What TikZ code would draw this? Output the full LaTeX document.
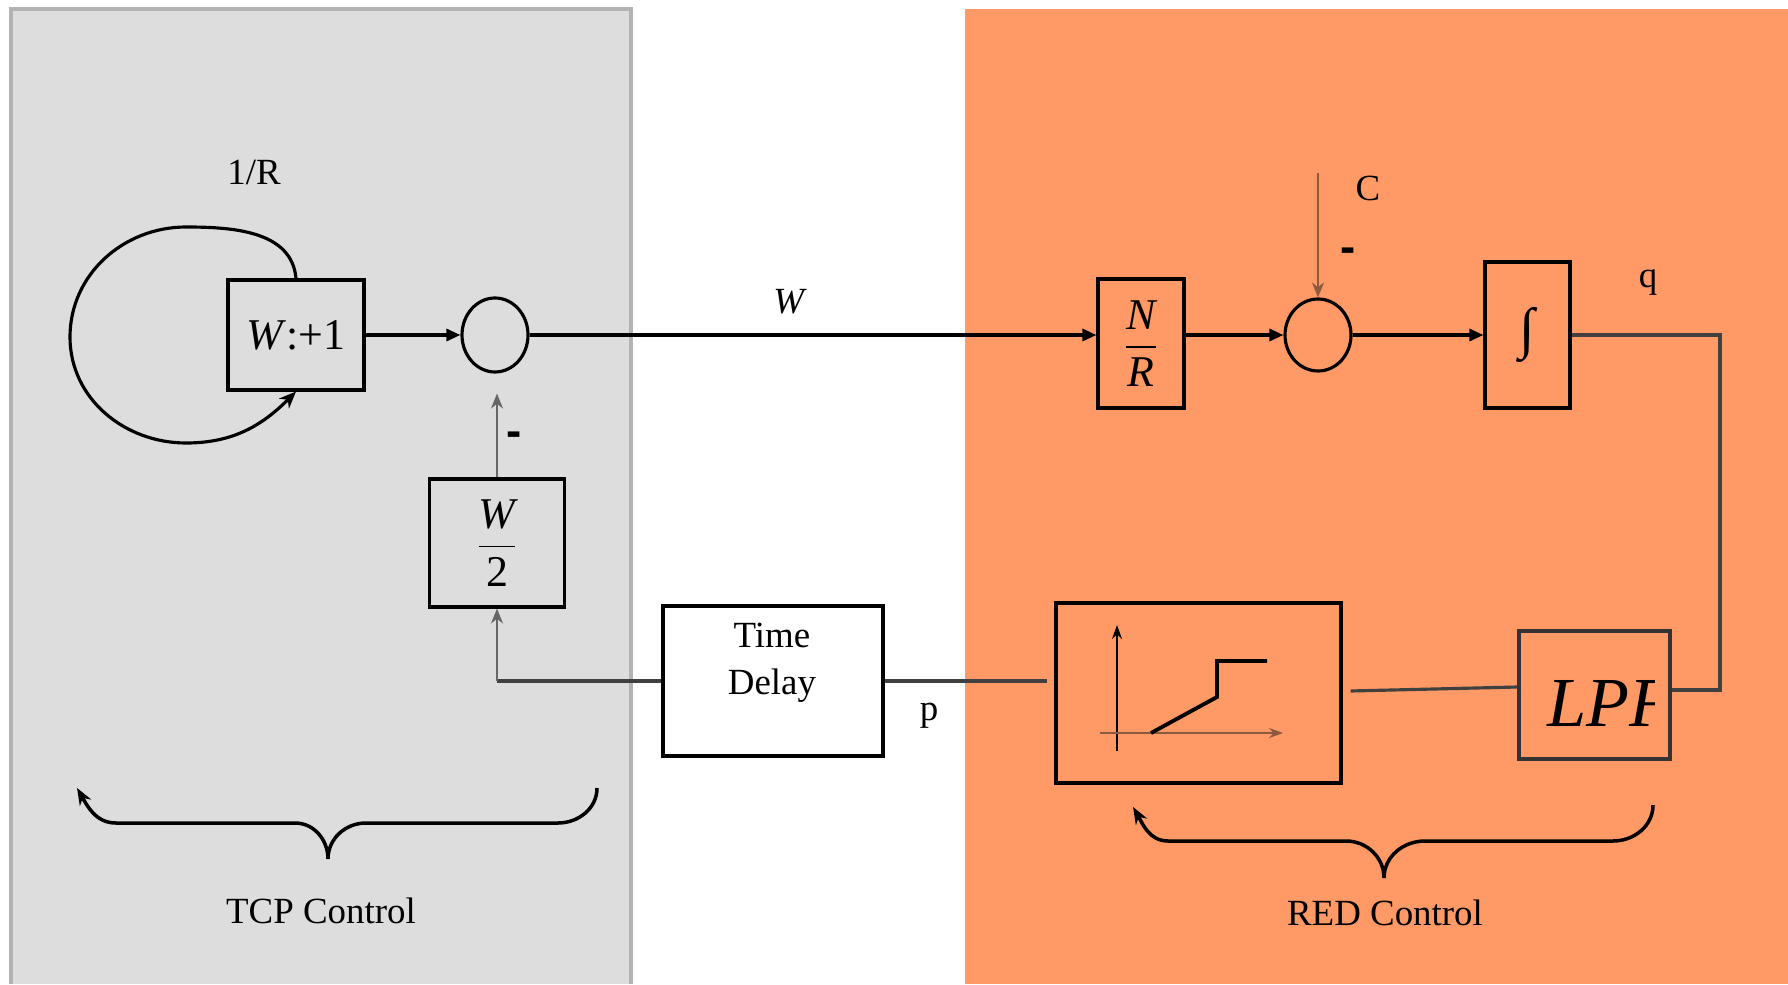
\documentclass[tikz,border=0pt]{standalone}
\usepackage{fontspec}
\usepackage{amsmath}
\setmainfont{Liberation Serif}
\setsansfont{Liberation Sans}
\usetikzlibrary{arrows.meta,shapes.geometric,positioning}
\definecolor{tcpgray}{HTML}{DDDDDD}
\definecolor{tcpedge}{HTML}{B3B3B3}
\definecolor{redpanel}{HTML}{FF9966}
\definecolor{darkline}{HTML}{404040}
\definecolor{axisbrown}{HTML}{8C5A40}
\tikzset{
	blockbox/.style={draw, line width=0.9pt, inner sep=0pt},
	sumnode/.style={draw, ellipse, line width=0.9pt, minimum width=0.66cm, minimum height=0.74cm, inner sep=0pt},
	mainflow/.style={line width=0.9pt, -{Triangle[length=0.14cm,width=0.12cm]}},
	thinflow/.style={line width=0.45pt, draw=black!60, -{Stealth[length=0.15cm,width=0.12cm]}},
	feedline/.style={line width=0.9pt, draw=darkline},
	bracecurve/.style={line width=1pt, -{Stealth[length=0.17cm,width=0.13cm]}},
	lbl/.style={font=\fontsize{10.5}{12.6}\selectfont},
	blocktext/.style={font=\fontsize{12.5}{15}\selectfont},
	minus/.style={font=\fontsize{13}{15}\sffamily\bfseries},
}

\begin{document}
\begin{tikzpicture}
			%%%%% START %%%%%
			\useasboundingbox (0,0) rectangle (17.88,9.84);
			
			\fill[tcpgray] (0.11,0) rectangle (6.31,9.75);
			\draw[tcpedge, line width=0.9pt] (0.11,0) -- (0.11,9.75) -- (6.31,9.75) -- (6.31,0);
			\fill[redpanel] (9.65,0) rectangle (17.88,9.75);
			
			% TCP control
			\node[blockbox, blocktext, minimum width=1.36cm, minimum height=1.10cm] (wplus) at (2.96,6.49) {\textit{W}:+1};
			\node[sumnode] (sum1) at (4.95,6.49) {};
			\node[blockbox, blocktext, minimum width=1.35cm, minimum height=1.28cm] (halfw) at (4.97,4.41) {$\dfrac{\textit{W}}{\text{2}}$};
			\node[blockbox, minimum width=2.20cm, minimum height=1.50cm] (delay) at (7.73,3.03) {};
			\node[align=center, font=\fontsize{10.5}{13.4}\selectfont] (delaytext) at (7.72,3.21) {Time\\Delay};
			
			% RED control
			\node[blockbox, blocktext, minimum width=0.86cm, minimum height=1.29cm] (nr) at (11.41,6.405) {$\dfrac{\textit{N}}{\textit{R}}$};
			\node[sumnode, minimum height=0.72cm] (sum2) at (13.18,6.49) {};
			\node[blockbox, minimum width=0.85cm, minimum height=1.46cm, font=\fontsize{16}{19}\selectfont] (integ) at (15.275,6.49) {∫};
			\node[blockbox, minimum width=2.85cm, minimum height=1.80cm] (red) at (11.985,2.91) {};
			\node[blockbox, draw=black!80, minimum width=1.51cm, minimum height=1.28cm] (lpf) at (15.945,2.89) {};
			\begin{scope}
				\clip (lpf.south west) rectangle ([xshift=-0.17cm]lpf.north east);
				\node[anchor=base west, inner sep=0pt, font=\fontsize{20}{24}\selectfont\itshape] (lpftext) at (15.47,2.58) {LPF};
			\end{scope}
			
			\draw[line width=0.45pt, -{Stealth[length=0.14cm,width=0.1cm]}] (11.17,2.33) -- (11.17,3.59);
			\draw[line width=0.45pt, draw=axisbrown, -{Stealth[length=0.14cm,width=0.1cm]}] (11.00,2.51) -- (12.83,2.51);
			\draw[line width=1.1pt] (11.51,2.51) -- (12.17,2.87) -- (12.17,3.23) -- (12.67,3.23);
			
			% forward path
			\draw[line width=0.9pt, -{Stealth[length=0.17cm,width=0.14cm]}] (wplus.north) to[out=95,in=0] (1.86,7.57) to[out=180,in=90] (0.70,6.47) to[out=-90,in=180] (1.86,5.41) to[out=0,in=225] (wplus.south);
			\draw[mainflow] (wplus) -- (sum1);
			\draw[mainflow] (sum1) -- (sum1 -| nr.west);
			\draw[mainflow] (sum1 -| nr.east) -- (sum2);
			\draw[mainflow] (sum2) -- (integ);
			
			\coordinate (cin) at (13.18,8.11);
			\draw[thinflow, draw=axisbrown] (cin) -- (sum2.north);
			
			% feedback path
			\coordinate (qright) at (17.20,6.49);
			\coordinate (lpfright) at (17.20,2.94);
			\draw[feedline] (integ.east) -- (qright) -- (lpfright) -- (lpfright -| lpf.east);
			\draw[feedline] ([yshift=0.08cm]lpf.west) -- ([xshift=0.08cm,yshift=0.02cm]red.east);
			\draw[feedline, shorten >=0.07cm] (delay.east) -- (delay.east -| red.west);
			\coordinate (fbturn) at (halfw |- delay.west);
			\draw[feedline] (delay.west) -- (fbturn);
			\draw[thinflow] (fbturn) -- (halfw.south);
			\draw[thinflow, shorten >=0.2cm] (halfw.north) -- (halfw.north |- sum1.south);
			
			\node[lbl] (onerlbl) at (2.54,8.11) {1/R};
			\node[lbl] (wlbl) at (7.90,6.82) {\textit{W}};
			\node[lbl] (clbl) at (13.68,7.96) {C};
			\node[lbl] (qlbl) at (16.48,7.01) {q};
			\node[lbl] (plbl) at (9.29,2.68) {p};
			\node[minus] (minusa) at (5.14,5.45) {-};
			\node[minus] (minusb) at (13.48,7.29) {-};
			
			\draw[bracecurve] (5.97,1.96) to[out=-90,in=0] (5.58,1.61) -- (3.66,1.61) to[out=180,in=90] (3.28,1.25) to[out=90,in=0] (2.95,1.61) -- (1.16,1.61) to[out=180,in=-60] (0.77,1.96);
			\draw[bracecurve] (16.53,1.79) to[out=-90,in=0] (16.13,1.43) -- (14.25,1.43) to[out=180,in=90] (13.84,1.06) to[out=90,in=0] (13.46,1.43) -- (11.68,1.43) to[out=180,in=-60] (11.33,1.77);
			\node[lbl] (tcplbl) at (3.21,0.73) {TCP Control};
			\node[lbl] (redlbl) at (13.85,0.71) {RED Control};
			
			%%%%% END %%%%%
\end{tikzpicture}
\end{document}
